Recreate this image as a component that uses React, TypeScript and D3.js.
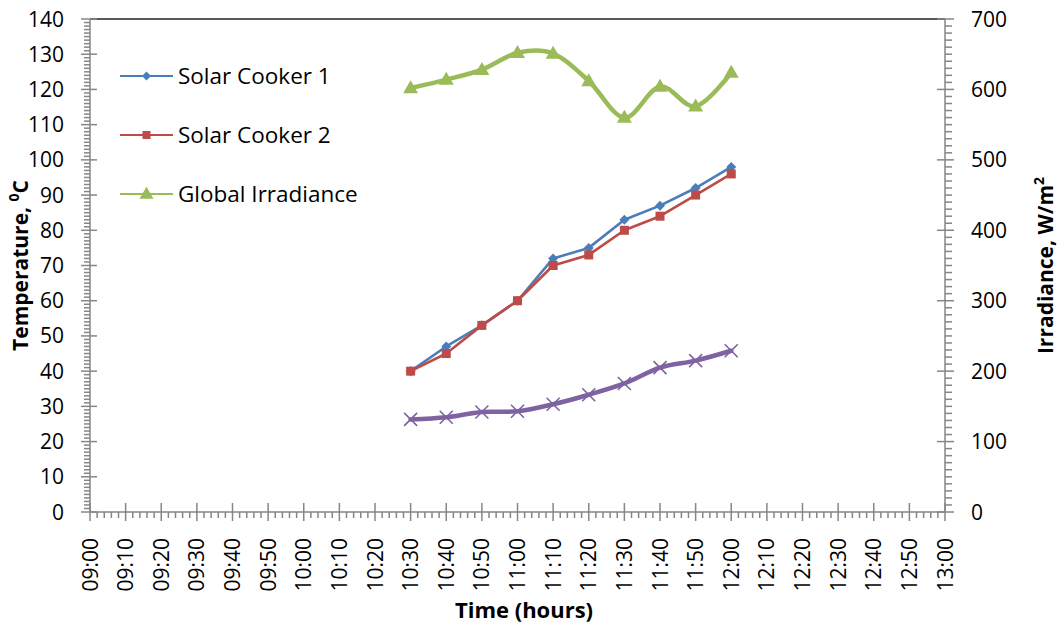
import React from "react";
import * as d3 from "d3";

// Sampling times, minutes after 09:00
const sampleMinutes = [90, 100, 110, 120, 130, 140, 150, 160, 170, 180];

// Temperatures, °C
const solarCooker1 = [40, 47, 53, 60, 72, 75, 83, 87, 92, 98];
const solarCooker2 = [40, 45, 53, 60, 70, 73, 80, 84, 90, 96];
const ambientTemp = [26.3, 26.9, 28.4, 28.6, 30.6, 33.3, 36.5, 41, 43, 45.8];

// Global irradiance, W/m²
const globalIrradiance = [602, 614, 628, 652, 651, 612, 560, 604, 576, 624];

// Axis ticks
const timeTicks = d3.range(0, 241, 10);
const tempTicks = d3.range(0, 141, 10);
const irrTicks = d3.range(0, 701, 100);

const W = 1061;
const H = 627;
const FONT = "'Open Sans', 'DejaVu Sans', sans-serif";
const AXIS = "#868686";

const C_BLUE = "#4a7ebb";
const C_RED = "#be4b48";
const C_GREEN = "#9bbb59";
const C_PURPLE = "#7f62a1";

const fmtTime = (m: number) => {
  const h = 9 + Math.floor(m / 60);
  const mm = m % 60;
  return `${String(h).padStart(2, "0")}:${String(mm).padStart(2, "0")}`;
};

const Diamond = ({ x, y, r, fill }: { x: number; y: number; r: number; fill: string }) => (
  <path d={`M${x},${y - r}L${x + r},${y}L${x},${y + r}L${x - r},${y}Z`} fill={fill} />
);
const Square = ({ x, y, s, fill }: { x: number; y: number; s: number; fill: string }) => (
  <rect x={x - s / 2} y={y - s / 2} width={s} height={s} fill={fill} />
);
const Triangle = ({ x, y, w, h, fill }: { x: number; y: number; w: number; h: number; fill: string }) => (
  <path d={`M${x},${y - h * 0.6}L${x + w / 2},${y + h * 0.4}L${x - w / 2},${y + h * 0.4}Z`} fill={fill} />
);
const Cross = ({ x, y, r, stroke }: { x: number; y: number; r: number; stroke: string }) => (
  <path d={`M${x - r},${y - r}L${x + r},${y + r}M${x - r},${y + r}L${x + r},${y - r}`} stroke={stroke} strokeWidth={1.6} />
);

export default function App() {
  const x = d3.scaleLinear().domain([0, 240]).range([90, 945]);
  const yT = d3.scaleLinear().domain([0, 140]).range([512, 19]);
  const yI = d3.scaleLinear().domain([0, 700]).range([512, 19]);

  const straight = d3.line<[number, number]>().x((d) => d[0]).y((d) => d[1]);
  const smooth = d3
    .line<[number, number]>()
    .x((d) => d[0])
    .y((d) => d[1])
    .curve(d3.curveCatmullRom.alpha(0));

  const pts = (vals: number[], ys: d3.ScaleLinear<number, number>) =>
    vals.map((v, i) => [x(sampleMinutes[i]), ys(v)] as [number, number]);

  const p1 = pts(solarCooker1, yT);
  const p2 = pts(solarCooker2, yT);
  const pA = pts(ambientTemp, yT);
  const pG = pts(globalIrradiance, yI);

  const x0 = x(0);
  const x1 = x(240);
  const yBase = yT(0);

  const minorTime = d3.range(0, 241, 2).filter((m) => m % 10 !== 0);
  const minorTemp = d3.range(0, 141, 1).filter((v) => v % 10 !== 0);
  const minorIrr = d3.range(0, 701, 10).filter((v) => v % 100 !== 0);

  const legend = [
    { label: "Solar Cooker 1", color: C_BLUE, y: 76, kind: "diamond" },
    { label: "Solar Cooker 2", color: C_RED, y: 135, kind: "square" },
    { label: "Global Irradiance", color: C_GREEN, y: 194, kind: "triangle" },
  ];

  return (
    <svg
      width={W}
      height={H}
      style={{ position: "absolute", left: 0, top: 0, background: "#fff" }}
      fontFamily={FONT}
    >
      <rect width={W} height={H} fill="#fff" />

      {/* plot area top border */}
      <line x1={x0} x2={x1} y1={yT(140)} y2={yT(140)} stroke="#222" strokeWidth={1.5} />

      {/* left temperature axis */}
      <g stroke={AXIS} strokeWidth={1.5}>
        <line x1={x0} x2={x0} y1={yT(0)} y2={yT(140)} />
        {minorTemp.map((v) => (
          <line key={`mt${v}`} x1={x0 - 6} x2={x0} y1={yT(v)} y2={yT(v)} />
        ))}
        {tempTicks.map((v) => (
          <line key={`Mt${v}`} x1={x0 - 9} x2={x0 + 7} y1={yT(v)} y2={yT(v)} />
        ))}
      </g>
      {tempTicks.map((v) => (
        <text key={`lt${v}`} x={64} y={yT(v)} dy="0.36em" textAnchor="end" fontSize={21} fill="#000">
          {v}
        </text>
      ))}

      {/* right irradiance axis */}
      <g stroke={AXIS} strokeWidth={1.5}>
        <line x1={x1} x2={x1} y1={yI(0)} y2={yI(700)} />
        {minorIrr.map((v) => (
          <line key={`mi${v}`} x1={x1} x2={x1 + 7} y1={yI(v)} y2={yI(v)} />
        ))}
        {irrTicks.map((v) => (
          <line key={`Mi${v}`} x1={x1 - 8} x2={x1 + 9} y1={yI(v)} y2={yI(v)} />
        ))}
      </g>
      {irrTicks.map((v) => (
        <text key={`li${v}`} x={971} y={yI(v)} dy="0.36em" textAnchor="start" fontSize={21} fill="#000">
          {v}
        </text>
      ))}

      {/* bottom time axis */}
      <g stroke={AXIS} strokeWidth={1.5}>
        <line x1={x0} x2={x1} y1={yBase} y2={yBase} />
        {minorTime.map((m) => (
          <line key={`mx${m}`} x1={x(m)} x2={x(m)} y1={yBase} y2={yBase + 6} />
        ))}
        {timeTicks.map((m) => (
          <line key={`Mx${m}`} x1={x(m)} x2={x(m)} y1={yBase - 9} y2={yBase + 9} />
        ))}
      </g>
      {timeTicks.map((m) => (
        <text
          key={`lx${m}`}
          transform={`translate(${x(m)},${538}) rotate(-90)`}
          dy="0.36em"
          textAnchor="end"
          fontSize={21}
          fill="#000"
        >
          {fmtTime(m)}
        </text>
      ))}

      {/* axis titles */}
      <text x={524} y={618} textAnchor="middle" fontSize={22} fontWeight="bold" fill="#000">
        Time (hours)
      </text>
      <text
        transform={`translate(28,${(yT(0) + yT(140)) / 2}) rotate(-90)`}
        textAnchor="middle"
        fontSize={21}
        fontWeight="bold"
        fill="#000"
      >
        Temperature,{" "}
        <tspan fontSize={14} dy={-9}>
          0
        </tspan>
        <tspan dy={9}>C</tspan>
      </text>
      <text
        transform={`translate(1053,${(yI(0) + yI(700)) / 2}) rotate(-90)`}
        textAnchor="middle"
        fontSize={21}
        fontWeight="bold"
        fill="#000"
      >
        Irradiance, W/m
        <tspan fontSize={14} dy={-9}>
          2
        </tspan>
      </text>

      {/* series */}
      <path d={straight(p1) ?? ""} fill="none" stroke={C_BLUE} strokeWidth={2.6} strokeLinejoin="round" />
      {p1.map(([px, py], i) => (
        <Diamond key={`d${i}`} x={px} y={py} r={5} fill={C_BLUE} />
      ))}

      <path d={straight(p2) ?? ""} fill="none" stroke={C_RED} strokeWidth={2.6} strokeLinejoin="round" />
      {p2.map(([px, py], i) => (
        <Square key={`s${i}`} x={px} y={py} s={9} fill={C_RED} />
      ))}

      <path d={smooth(pA) ?? ""} fill="none" stroke={C_PURPLE} strokeWidth={4.5} strokeLinecap="round" />
      {pA.map(([px, py], i) => (
        <Cross key={`c${i}`} x={px} y={py} r={6.5} stroke={C_PURPLE} />
      ))}

      <path d={smooth(pG) ?? ""} fill="none" stroke={C_GREEN} strokeWidth={4.5} strokeLinecap="round" />
      {pG.map(([px, py], i) => (
        <Triangle key={`t${i}`} x={px} y={py} w={15} h={13} fill={C_GREEN} />
      ))}

      {/* legend */}
      {legend.map((l) => (
        <g key={l.label}>
          <line x1={120} x2={173} y1={l.y} y2={l.y} stroke={l.color} strokeWidth={2.2} />
          {l.kind === "diamond" && <Diamond x={146.5} y={l.y} r={4.5} fill={l.color} />}
          {l.kind === "square" && <Square x={146.5} y={l.y} s={8} fill={l.color} />}
          {l.kind === "triangle" && <Triangle x={146.5} y={l.y} w={14} h={12} fill={l.color} />}
          <text x={178} y={l.y} dy="0.36em" fontSize={22.5} fill="#000">
            {l.label}
          </text>
        </g>
      ))}
    </svg>
  );
}
